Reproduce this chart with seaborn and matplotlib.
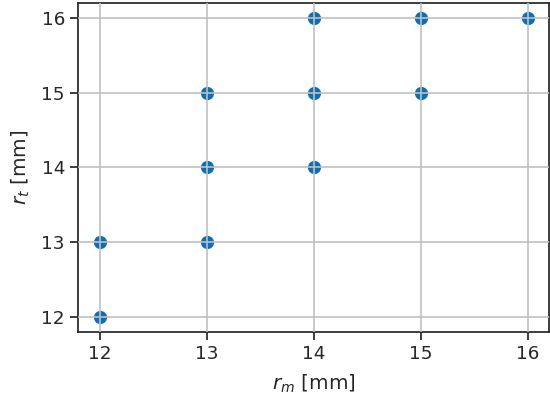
import pandas as pd
import matplotlib
matplotlib.use('Agg')
import matplotlib.pyplot as plt
import seaborn as sns

# pares (r_m, r_t) observados
r_m = [12, 12, 13, 13, 13, 14, 14, 14, 15, 15, 16]
r_t = [12, 13, 13, 14, 15, 14, 15, 16, 15, 16, 16]

df = pd.DataFrame({'r_m': r_m, 'r_t': r_t})

sns.set_theme(style='ticks', font_scale=1.2)

fig, ax = plt.subplots(figsize=(5.5, 4.05), dpi=100)
sns.scatterplot(data=df, x='r_m', y='r_t', color='#0f6fb4', s=90,
                linewidth=0, ax=ax, zorder=1)
ax.grid(True, color='#c0c0c0', linewidth=1.2, zorder=2)
ax.set_axisbelow(False)
ax.set_xticks([12, 13, 14, 15, 16])
ax.set_yticks([12, 13, 14, 15, 16])
ax.set_xlim(11.8, 16.2)
ax.set_ylim(11.8, 16.2)
ax.set_xlabel('$r_m$ [mm]', labelpad=7)
ax.set_ylabel('$r_t$ [mm]', labelpad=7)
fig.subplots_adjust(left=0.142, right=0.998, top=0.993, bottom=0.18)
plt.savefig('out.png')
